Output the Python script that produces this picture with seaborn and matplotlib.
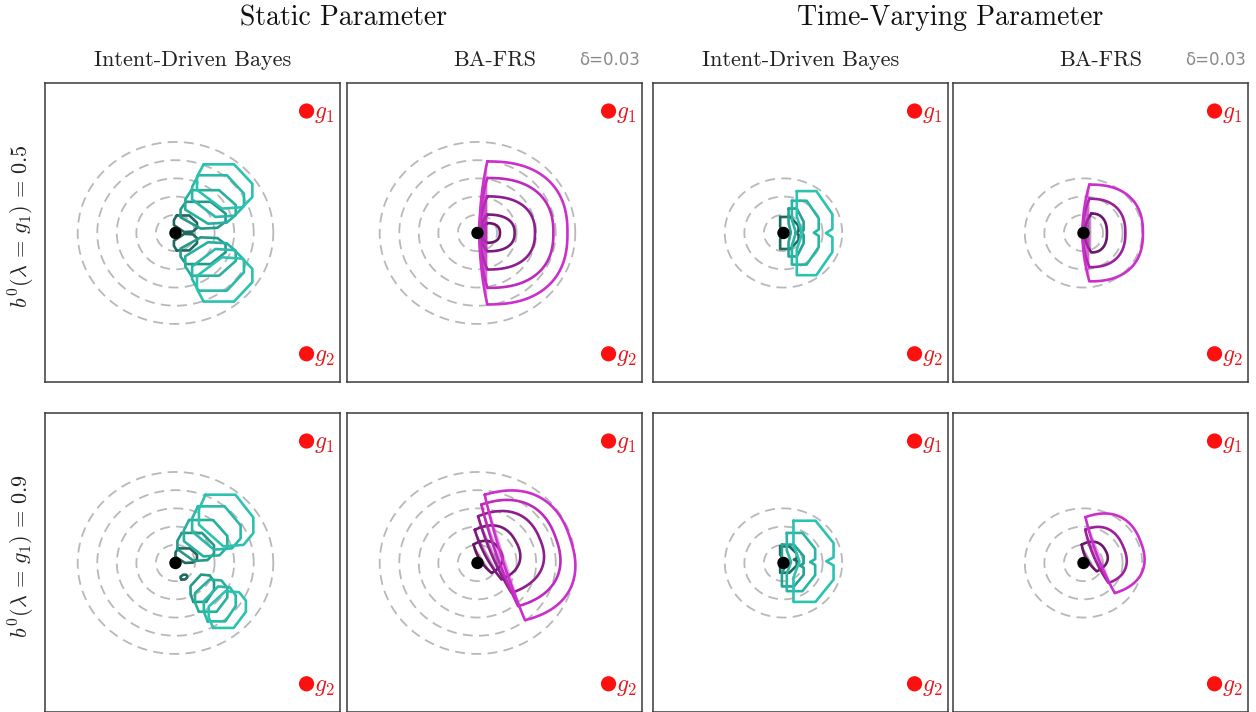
import numpy as np
import matplotlib
matplotlib.use("Agg")
import matplotlib.pyplot as plt
import seaborn as sns

sns.set_theme(style="white")
plt.rcParams["mathtext.fontset"] = "cm"
plt.rcParams["axes.formatter.use_mathtext"] = True

# ---------------------------------------------------------------- data
GROUP_TITLES = ["Static Parameter", "Time-Varying Parameter"]
METHOD_TITLES = ["Intent-Driven Bayes", "BA-FRS"]
PRIORS = [0.5, 0.9]
DELTA = 0.03

GOAL_NAMES = ["g_1", "g_2"]
GOAL_X = [6.7, 6.7]
GOAL_Y = [6.70, -6.64]
HUMAN_X = [0.0]
HUMAN_Y = [0.0]

# distance rings (m) drawn around the human
RINGS_STATIC = [1, 2, 3, 4, 5]
RINGS_TV = [1, 2, 3]

# Intent-Driven Bayes, static parameter: one lobe per horizon step,
# (left, bottom, right, top)
BAYES_ST_05_UP = [(-0.08, 0.05, 1.10, 0.96), (0.26, 0.24, 2.56, 1.71),
                  (0.50, 0.51, 3.08, 2.35), (0.85, 0.88, 3.50, 3.17),
                  (1.10, 1.34, 3.93, 3.77)]
BAYES_ST_05_DN = [(-0.08, -0.96, 1.10, -0.05), (0.26, -1.71, 2.56, -0.24),
                  (0.50, -2.35, 3.08, -0.51), (0.85, -3.17, 3.50, -0.88),
                  (1.10, -3.77, 3.93, -1.34)]
BAYES_ST_09_UP = [(0.00, 0.00, 1.10, 0.80), (0.10, 0.11, 1.97, 1.65),
                  (0.43, 0.36, 2.65, 2.36), (0.85, 0.73, 3.33, 3.11),
                  (1.20, 0.91, 3.98, 3.75)]
BAYES_ST_09_DN = [(0.26, -0.91, 0.60, -0.64), (0.77, -2.14, 1.97, -0.64),
                  (1.00, -2.68, 2.65, -0.91), (1.45, -3.21, 3.08, -1.29),
                  (1.70, -3.57, 3.60, -1.55)]

# Intent-Driven Bayes, time-varying parameter: (left, right, top, bottom)
BAYES_TV_05 = [(-0.17, 0.77, 0.88, -0.88), (0.26, 1.03, 1.34, -1.29),
               (0.43, 1.80, 1.77, -1.74), (0.68, 2.50, 2.30, -2.32)]
BAYES_TV_09 = [(-0.17, 0.68, 0.91, -0.54), (-0.08, 1.03, 1.01, -1.29),
               (0.17, 1.62, 1.65, -1.55), (0.51, 2.56, 2.32, -2.14)]

# BA-FRS: (top_x, top_y, bottom_x, bottom_y, reach, bend)
FRS_ST_05 = [(0.50, 0.54, 0.50, -0.54, 0.65, 0.8), (0.50, 1.01, 0.50, -1.01, 1.40, 0.8),
             (0.50, 2.01, 0.50, -2.01, 2.44, 0.8), (0.50, 3.02, 0.50, -3.02, 3.38, 0.8),
             (0.50, 3.93, 0.50, -3.93, 4.10, 0.8)]
FRS_ST_09 = [(-0.20, 1.02, 0.72, -0.55, 1.00, 0.3), (-0.14, 1.82, 1.23, -0.91, 1.59, 0.3),
             (0.03, 2.57, 1.74, -1.65, 2.46, 0.3), (0.20, 3.21, 2.08, -2.38, 3.02, 0.3),
             (0.37, 3.75, 2.43, -3.15, 3.50, 0.3)]
FRS_TV_05 = [(0.40, 1.07, 0.40, -1.07, 0.80, 0.7), (0.30, 1.88, 0.30, -1.88, 1.84, 0.7),
             (0.30, 2.66, 0.30, -2.66, 2.74, 0.7)]
FRS_TV_09 = [(-0.09, 1.01, 0.68, -0.46, 0.93, 0.3), (0.09, 1.83, 1.28, -1.10, 1.45, 0.3),
             (0.10, 2.52, 1.60, -1.66, 2.20, 0.3)]

TEAL_5 = ["#1e6a61", "#23998a", "#28b09f", "#2ab9a8", "#2cc2b0"]
TEAL_4 = ["#1e6a61", "#25a293", "#29b5a4", "#2cc2b0"]
MAGENTA_5 = ["#661566", "#7a1a7b", "#8e1e8f", "#bd2abd", "#cc2fcc"]
MAGENTA_3 = ["#6a166b", "#9b219c", "#cb2fcb"]

# ---------------------------------------------------------------- shapes
LOBE_UP = np.array([(0.12, 1.0), (0.67, 1.0), (1.0, 0.56), (1.0, 0.26),
                    (0.82, 0.03), (0.45, 0.0), (0.0, 0.42), (0.0, 0.72), (0.12, 1.0)])
CHEVRON = np.array([(0, 1), (0.55, 1), (1, 0.45), (1, 0.1), (0.82, 0), (1, -0.1),
                    (1, -0.45), (0.55, -1), (0, -1), (0, -0.4), (0.15, 0), (0, 0.4), (0, 1)])

LW = 1.9
XLIM = (-6.67, 8.41)
YLIM = (-8.19, 8.24)


def trace(ax, xs, ys, color, lw=LW, z=2, **kw):
    sns.lineplot(x=np.asarray(xs), y=np.asarray(ys), sort=False, estimator=None,
                 color=color, linewidth=lw, ax=ax, legend=False, zorder=z,
                 solid_joinstyle="round", **kw)


def lobe(ax, box, color, flip=False):
    l, b, r, t = box
    shp = LOBE_UP.copy()
    if flip:
        shp[:, 1] = 1 - shp[:, 1]
    trace(ax, l + shp[:, 0] * (r - l), b + shp[:, 1] * (t - b), color)


def chevron(ax, spec, color):
    l, r, t, b = spec
    mid, half = (t + b) / 2, (t - b) / 2
    trace(ax, l + CHEVRON[:, 0] * (r - l), mid + CHEVRON[:, 1] * half, color)


def d_shape(ax, spec, color, p=2.4):
    tx, ty, bx, by, a, bend = spec
    top, bot = np.array([tx, ty]), np.array([bx, by])
    m = (top + bot) / 2
    e = (top - bot) / 2
    hb = np.hypot(*e)
    eh = e / hb
    nh = np.array([eh[1], -eh[0]])
    t = np.linspace(0, np.pi, 160)
    s = a * np.abs(np.sin(t)) ** (2 / p)
    r = hb * np.sign(np.cos(t)) * np.abs(np.cos(t)) ** (2 / p)
    arc = m + np.outer(s, nh) + np.outer(r, eh)
    q = m - bend * nh
    u = np.linspace(0, 1, 60)[:, None]
    edge = (1 - u) ** 2 * bot + 2 * (1 - u) * u * q + u ** 2 * top
    ax.fill(np.r_[edge[:, 0], top[0]], np.r_[edge[:, 1], top[1]],
            color=color, alpha=0.45, lw=0, zorder=2)
    pts = np.vstack([arc, edge])
    trace(ax, pts[:, 0], pts[:, 1], color)


def rings(ax, radii):
    th = np.linspace(0, 2 * np.pi, 240)
    for rad in radii:
        trace(ax, HUMAN_X[0] + rad * np.cos(th), HUMAN_Y[0] + rad * np.sin(th),
              "#b8b8b8", lw=1.3, z=1, linestyle=(0, (5.5, 3.5)))


def decorate(ax):
    sns.scatterplot(x=GOAL_X, y=GOAL_Y, color="#ff1010", s=120, edgecolor="none",
                    ax=ax, legend=False, zorder=5)
    for gx, gy, nm in zip(GOAL_X, GOAL_Y, GOAL_NAMES):
        ax.text(gx + 0.36, gy - 0.1, f"${nm}$", color="#e4161c", fontsize=17,
                ha="left", va="center", zorder=6)
    sns.scatterplot(x=HUMAN_X, y=HUMAN_Y, color="black", s=80, edgecolor="none",
                    ax=ax, legend=False, zorder=5)
    ax.set_xlim(*XLIM)
    ax.set_ylim(*YLIM)
    ax.set_xticks([])
    ax.set_yticks([])
    ax.set_xlabel("")
    ax.set_ylabel("")
    for sp in ax.spines.values():
        sp.set_color("#3a3a3a")
        sp.set_linewidth(1.1)


# ---------------------------------------------------------------- figure
W, H = 1256, 712
fig = plt.figure(figsize=(W / 100, H / 100), dpi=100)

col_left = [45, 347, 653, 953]
col_w = 295
row_top = [83, 413]
row_h = 299

for ri, prior in enumerate(PRIORS):
    for ci in range(4):
        ax = fig.add_axes([col_left[ci] / W, 1 - (row_top[ri] + row_h) / H,
                           col_w / W, row_h / H])
        static = ci < 2
        rings(ax, RINGS_STATIC if static else RINGS_TV)
        if ci == 0:
            ups = BAYES_ST_05_UP if prior == 0.5 else BAYES_ST_09_UP
            dns = BAYES_ST_05_DN if prior == 0.5 else BAYES_ST_09_DN
            for k, (bu, bd) in enumerate(zip(ups, dns)):
                lobe(ax, bu, TEAL_5[k])
                lobe(ax, bd, TEAL_5[k], flip=True)
        elif ci == 1:
            specs = FRS_ST_05 if prior == 0.5 else FRS_ST_09
            for k, sp in enumerate(specs):
                d_shape(ax, sp, MAGENTA_5[k])
        elif ci == 2:
            specs = BAYES_TV_05 if prior == 0.5 else BAYES_TV_09
            for k, sp in enumerate(specs):
                chevron(ax, sp, TEAL_4[k])
        else:
            specs = FRS_TV_05 if prior == 0.5 else FRS_TV_09
            for k, sp in enumerate(specs):
                d_shape(ax, sp, MAGENTA_3[k])
        decorate(ax)

    yc = 1 - (row_top[ri] + row_h / 2 - 6) / H
    fig.text(22 / W, yc, rf"$b^0(\lambda\,=\,g_1)\,=\,{prior}$", rotation=90,
             ha="center", va="center", fontsize=16, color="#222222")

# column headings
serif = "cmr10"
fig.text((col_left[0] + col_left[1] + col_w) / 2 / W, 1 - 18 / H, GROUP_TITLES[0],
         fontsize=20, family=serif, ha="center", va="center", color="#111111")
fig.text((col_left[2] + col_left[3] + col_w) / 2 / W, 1 - 18 / H, GROUP_TITLES[1],
         fontsize=20, family=serif, ha="center", va="center", color="#111111")
for ci in range(4):
    cx = (col_left[ci] + col_w / 2) / W
    fig.text(cx, 1 - 60 / H, METHOD_TITLES[ci % 2], fontsize=16, family=serif,
             ha="center", va="center", color="#222222")
    if ci % 2 == 1:
        fig.text((col_left[ci] + col_w - 2) / W, 1 - 60 / H, f"δ={DELTA}",
                 fontsize=12, ha="right", va="center", color="#8a8a8a")

fig.savefig("out.png", dpi=100)
